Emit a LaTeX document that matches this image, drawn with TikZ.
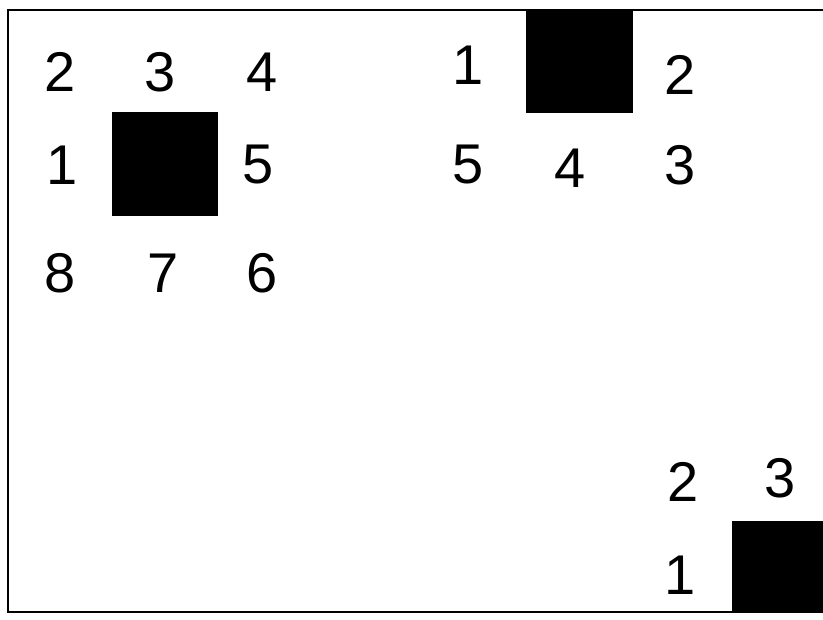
\documentclass[tikz,border=0pt]{standalone}
\usepackage{fontspec}
\setmainfont{Liberation Sans}
\begin{document}
\begin{tikzpicture}[x=1pt,y=1pt,
  num/.style={font=\fontsize{56}{56}\selectfont, inner sep=0pt, anchor=center},
  blk/.style={fill=black, draw=black, line width=1.5pt},
  frame/.style={draw=black, line width=1.3pt}]
\useasboundingbox (0,0) rectangle (823,620);
\clip (0,0) rectangle (823,620);
% frame
\coordinate (tl) at (8,610);
\coordinate (bl) at (8,8);
\coordinate (tr) at (830,610);
\coordinate (br) at (830,8);
\draw[frame] (tr) -- (tl) -- (bl) -- (br);
% squares
\node[blk, minimum width=104pt, minimum height=102pt, inner sep=0pt] (sqA) at (165,456) {};
\node[blk, minimum width=105pt, minimum height=102pt, inner sep=0pt] (sqB) at (579.5,559) {};
\node[blk, minimum width=104pt, minimum height=90pt, inner sep=0pt] (sqC) at (785,53) {};
% group A
\node[num] (a2) at (60,548) {2};
\node[num] (a3) at (160,548) {3};
\node[num] (a4) at (262,548) {4};
\node[num] (a1) at (62,455) {1};
\node[num] (a5) at (258,455) {5};
\node[num] (a8) at (60,347) {8};
\node[num] (a7) at (163,347) {7};
\node[num] (a6) at (262,347) {6};
% group B
\node[num] (b1) at (468,555) {1};
\node[num] (b2) at (680,545) {2};
\node[num] (b5) at (468,455) {5};
\node[num] (b4) at (570,452) {4};
\node[num] (b3) at (680,455) {3};
% group C
\node[num] (c2) at (683,138) {2};
\node[num] (c3) at (780,142) {3};
\node[num] (c1) at (680,45) {1};
\end{tikzpicture}
\end{document}
